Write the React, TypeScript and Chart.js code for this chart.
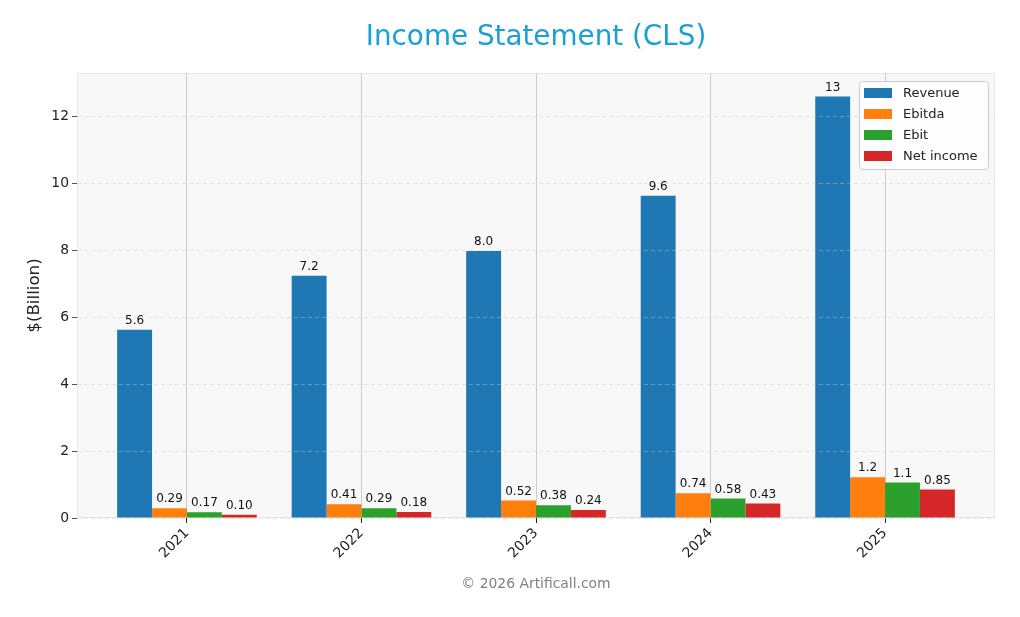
import React, { useEffect, useRef } from "react";
import { Chart, registerables } from "chart.js";

Chart.register(...registerables);

const years = ["2021", "2022", "2023", "2024", "2025"];
const seriesNames = ["Revenue", "Ebitda", "Ebit", "Net income"];
const revenue = [5.63, 7.24, 7.98, 9.63, 12.6];
const ebitda = [0.29, 0.41, 0.52, 0.74, 1.22];
const ebit = [0.17, 0.29, 0.38, 0.58, 1.06];
const netIncome = [0.1, 0.18, 0.24, 0.43, 0.85];
const colors = ["#1f77b4", "#ff7f0e", "#2ca02c", "#d62728"];
const yTicks = [0, 2, 4, 6, 8, 10, 12];

const FONT = "'DejaVu Sans', sans-serif";

function fmt(v: number): string {
  if (v >= 10) return v.toFixed(0);
  if (v >= 1) return v.toFixed(1);
  return v.toFixed(2);
}

const decorPlugin = {
  id: "decor",
  beforeDraw(chart: any) {
    const { ctx, chartArea: a } = chart;
    ctx.save();
    ctx.fillStyle = "#f8f8f8";
    ctx.fillRect(a.left, a.top, a.right - a.left, a.bottom - a.top);
    ctx.strokeStyle = "#e6e6e6";
    ctx.lineWidth = 1;
    ctx.strokeRect(a.left + 0.5, a.top + 0.5, a.right - a.left - 1, a.bottom - a.top - 1);
    ctx.restore();
  },
  afterDraw(chart: any) {
    const { ctx, chartArea: a } = chart;
    ctx.save();
    // title
    ctx.fillStyle = "#1a9fd6";
    ctx.font = `27.8px ${FONT}`;
    ctx.textAlign = "center";
    ctx.textBaseline = "middle";
    ctx.fillText("Income Statement (CLS)", (a.left + a.right) / 2, 38);
    // footer
    ctx.fillStyle = "#808080";
    ctx.font = `13.9px ${FONT}`;
    ctx.fillText("\u00a9 2026 Artificall.com", (a.left + a.right) / 2, 584);
    // y label
    ctx.save();
    ctx.translate(35, (a.top + a.bottom) / 2);
    ctx.rotate(-Math.PI / 2);
    ctx.fillStyle = "#222";
    ctx.font = `16.7px ${FONT}`;
    ctx.fillText("$(Billion)", 0, 0);
    ctx.restore();
    // data labels
    ctx.font = `12px ${FONT}`;
    ctx.fillStyle = "#111";
    ctx.textAlign = "center";
    ctx.textBaseline = "bottom";
    chart.data.datasets.forEach((ds: any, di: number) => {
      const meta = chart.getDatasetMeta(di);
      meta.data.forEach((el: any, i: number) => {
        const v = ds.data[i].y;
        ctx.fillText(fmt(v), el.x, el.y - 3);
      });
    });
    // legend
    const lx = 859, ly = 81, lw = 129, lh = 88;
    ctx.fillStyle = "rgba(255,255,255,0.85)";
    ctx.strokeStyle = "#cccccc";
    ctx.lineWidth = 1;
    ctx.beginPath();
    ctx.roundRect(lx + 0.5, ly + 0.5, lw, lh, 3);
    ctx.fill();
    ctx.stroke();
    ctx.font = `13px ${FONT}`;
    ctx.textAlign = "left";
    ctx.textBaseline = "middle";
    seriesNames.forEach((n, i) => {
      const cy = 93 + i * 21;
      ctx.fillStyle = colors[i];
      ctx.fillRect(864, cy - 5, 28, 10);
      ctx.fillStyle = "#222";
      ctx.fillText(n, 903, cy + 1);
    });
    ctx.restore();
  },
};

export default function App() {
  const ref = useRef<HTMLCanvasElement>(null);
  useEffect(() => {
    if (!ref.current) return;
    const all = [revenue, ebitda, ebit, netIncome];
    const chart = new Chart(ref.current, {
      type: "bar",
      data: {
        datasets: all.map((arr, k) => ({
          label: seriesNames[k],
          data: arr.map((v, i) => ({ x: i, y: v })),
          backgroundColor: colors[k],
          borderWidth: 0,
          barPercentage: 1,
          categoryPercentage: 0.8,
        })),
      },
      options: {
        responsive: false,
        animation: false,
        devicePixelRatio: 1,
        layout: { padding: { top: 73, right: 25, left: 0, bottom: 0 } },
        plugins: {
          legend: { display: false },
          title: { display: false },
          tooltip: { enabled: false },
        },
        scales: {
          x: {
            type: "linear",
            offset: false,
            min: -0.63,
            max: 4.63,
            afterBuildTicks: (axis: any) => {
              axis.ticks = years.map((_, i) => ({ value: i }));
            },
            afterFit: (axis: any) => {
              axis.height = 99;
            },
            grid: {
              offset: false,
              color: "#cccccc",
              lineWidth: 1,
              tickColor: "#222",
              tickLength: 5,
            },
            border: { display: false },
            ticks: {
              minRotation: 45,
              maxRotation: 45,
              padding: 2,
              color: "#222",
              font: { family: FONT, size: 13.9 },
              callback: (v: any) => years[v as number] ?? "",
            },
          },
          y: {
            type: "linear",
            min: 0,
            max: 13.3,
            afterBuildTicks: (axis: any) => {
              axis.ticks = yTicks.map((v) => ({ value: v }));
            },
            afterFit: (axis: any) => {
              axis.width = 77;
            },
            grid: {
              color: "rgba(200,200,200,0.55)",
              lineWidth: 0.8,
              tickColor: "#222",
              tickLength: 5,
              z: 1,
            },
            border: { display: false, dash: [4, 3] },
            ticks: {
              padding: 3,
              color: "#222",
              font: { family: FONT, size: 13.9 },
            },
          },
        },
      },
      plugins: [decorPlugin],
    } as any);
    return () => chart.destroy();
  }, []);
  return (
    <div style={{ position: "fixed", left: 0, top: 0, width: 1020, height: 617, background: "#fff" }}>
      <canvas ref={ref} width={1020} height={617} style={{ width: 1020, height: 617, display: "block" }} />
    </div>
  );
}
